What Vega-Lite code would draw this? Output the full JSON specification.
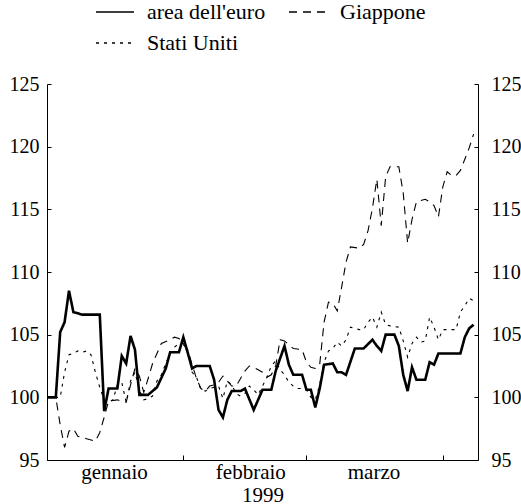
{
  "$schema": "https://vega.github.io/schema/vega-lite/v6.json",
  "width": 431,
  "height": 376,
  "autosize": {"type": "none"},
  "padding": {"left": 47, "top": 84, "right": 43, "bottom": 44},
  "background": "white",
  "config": {
    "view": {"stroke": null},
    "font": "Liberation Serif",
    "axis": {
      "grid": false,
      "domainColor": "black",
      "domainWidth": 1,
      "tickColor": "black",
      "tickWidth": 1,
      "labelColor": "black",
      "labelFont": "Liberation Serif",
      "labelFontSize": 20,
      "titleFont": "Liberation Serif",
      "titleFontSize": 21,
      "titleFontWeight": "normal",
      "titleColor": "black",
      "labelOverlap": false,
      "labelFlush": false
    }
  },
  "datasets": {
    "serie": [
      {"giorno": "1999-01-01", "paese": "area dell'euro", "indice": 100.0},
      {"giorno": "1999-01-03", "paese": "area dell'euro", "indice": 100.0},
      {"giorno": "1999-01-04", "paese": "area dell'euro", "indice": 105.2},
      {"giorno": "1999-01-05", "paese": "area dell'euro", "indice": 106.0},
      {"giorno": "1999-01-06", "paese": "area dell'euro", "indice": 108.5},
      {"giorno": "1999-01-07", "paese": "area dell'euro", "indice": 106.8},
      {"giorno": "1999-01-09", "paese": "area dell'euro", "indice": 106.6},
      {"giorno": "1999-01-13", "paese": "area dell'euro", "indice": 106.6},
      {"giorno": "1999-01-14", "paese": "area dell'euro", "indice": 98.9},
      {"giorno": "1999-01-15", "paese": "area dell'euro", "indice": 100.7},
      {"giorno": "1999-01-17", "paese": "area dell'euro", "indice": 100.7},
      {"giorno": "1999-01-18", "paese": "area dell'euro", "indice": 103.3},
      {"giorno": "1999-01-19", "paese": "area dell'euro", "indice": 102.7},
      {"giorno": "1999-01-20", "paese": "area dell'euro", "indice": 104.9},
      {"giorno": "1999-01-21", "paese": "area dell'euro", "indice": 103.8},
      {"giorno": "1999-01-22", "paese": "area dell'euro", "indice": 100.2},
      {"giorno": "1999-01-24", "paese": "area dell'euro", "indice": 100.2},
      {"giorno": "1999-01-26", "paese": "area dell'euro", "indice": 100.8},
      {"giorno": "1999-01-28", "paese": "area dell'euro", "indice": 102.3},
      {"giorno": "1999-01-29", "paese": "area dell'euro", "indice": 103.6},
      {"giorno": "1999-01-31", "paese": "area dell'euro", "indice": 103.6},
      {"giorno": "1999-02-01", "paese": "area dell'euro", "indice": 104.8},
      {"giorno": "1999-02-03", "paese": "area dell'euro", "indice": 102.3},
      {"giorno": "1999-02-04", "paese": "area dell'euro", "indice": 102.5},
      {"giorno": "1999-02-07", "paese": "area dell'euro", "indice": 102.5},
      {"giorno": "1999-02-08", "paese": "area dell'euro", "indice": 101.4},
      {"giorno": "1999-02-09", "paese": "area dell'euro", "indice": 99.0},
      {"giorno": "1999-02-10", "paese": "area dell'euro", "indice": 98.4},
      {"giorno": "1999-02-11", "paese": "area dell'euro", "indice": 99.8},
      {"giorno": "1999-02-12", "paese": "area dell'euro", "indice": 100.5},
      {"giorno": "1999-02-14", "paese": "area dell'euro", "indice": 100.5},
      {"giorno": "1999-02-15", "paese": "area dell'euro", "indice": 100.7},
      {"giorno": "1999-02-17", "paese": "area dell'euro", "indice": 99.0},
      {"giorno": "1999-02-19", "paese": "area dell'euro", "indice": 100.6},
      {"giorno": "1999-02-21", "paese": "area dell'euro", "indice": 100.6},
      {"giorno": "1999-02-22", "paese": "area dell'euro", "indice": 102.1},
      {"giorno": "1999-02-24", "paese": "area dell'euro", "indice": 104.1},
      {"giorno": "1999-02-25", "paese": "area dell'euro", "indice": 102.6},
      {"giorno": "1999-02-26", "paese": "area dell'euro", "indice": 101.8},
      {"giorno": "1999-02-28", "paese": "area dell'euro", "indice": 101.8},
      {"giorno": "1999-03-01", "paese": "area dell'euro", "indice": 100.6},
      {"giorno": "1999-03-02", "paese": "area dell'euro", "indice": 100.6},
      {"giorno": "1999-03-03", "paese": "area dell'euro", "indice": 99.2},
      {"giorno": "1999-03-04", "paese": "area dell'euro", "indice": 100.7},
      {"giorno": "1999-03-05", "paese": "area dell'euro", "indice": 102.6},
      {"giorno": "1999-03-07", "paese": "area dell'euro", "indice": 102.7},
      {"giorno": "1999-03-08", "paese": "area dell'euro", "indice": 102.0},
      {"giorno": "1999-03-09", "paese": "area dell'euro", "indice": 102.0},
      {"giorno": "1999-03-10", "paese": "area dell'euro", "indice": 101.8},
      {"giorno": "1999-03-12", "paese": "area dell'euro", "indice": 103.9},
      {"giorno": "1999-03-14", "paese": "area dell'euro", "indice": 103.9},
      {"giorno": "1999-03-16", "paese": "area dell'euro", "indice": 104.6},
      {"giorno": "1999-03-17", "paese": "area dell'euro", "indice": 104.1},
      {"giorno": "1999-03-18", "paese": "area dell'euro", "indice": 103.7},
      {"giorno": "1999-03-19", "paese": "area dell'euro", "indice": 105.0},
      {"giorno": "1999-03-21", "paese": "area dell'euro", "indice": 105.0},
      {"giorno": "1999-03-22", "paese": "area dell'euro", "indice": 104.1},
      {"giorno": "1999-03-23", "paese": "area dell'euro", "indice": 101.8},
      {"giorno": "1999-03-24", "paese": "area dell'euro", "indice": 100.5},
      {"giorno": "1999-03-25", "paese": "area dell'euro", "indice": 102.4},
      {"giorno": "1999-03-26", "paese": "area dell'euro", "indice": 101.4},
      {"giorno": "1999-03-28", "paese": "area dell'euro", "indice": 101.4},
      {"giorno": "1999-03-29", "paese": "area dell'euro", "indice": 102.8},
      {"giorno": "1999-03-30", "paese": "area dell'euro", "indice": 102.6},
      {"giorno": "1999-03-31", "paese": "area dell'euro", "indice": 103.5},
      {"giorno": "1999-04-05", "paese": "area dell'euro", "indice": 103.5},
      {"giorno": "1999-04-06", "paese": "area dell'euro", "indice": 104.8},
      {"giorno": "1999-04-07", "paese": "area dell'euro", "indice": 105.5},
      {"giorno": "1999-04-08", "paese": "area dell'euro", "indice": 105.8},

      {"giorno": "1999-01-01", "paese": "Giappone", "indice": 100.0},
      {"giorno": "1999-01-03", "paese": "Giappone", "indice": 100.0},
      {"giorno": "1999-01-04", "paese": "Giappone", "indice": 97.8},
      {"giorno": "1999-01-05", "paese": "Giappone", "indice": 96.0},
      {"giorno": "1999-01-06", "paese": "Giappone", "indice": 97.3},
      {"giorno": "1999-01-07", "paese": "Giappone", "indice": 97.5},
      {"giorno": "1999-01-08", "paese": "Giappone", "indice": 96.9},
      {"giorno": "1999-01-10", "paese": "Giappone", "indice": 96.7},
      {"giorno": "1999-01-12", "paese": "Giappone", "indice": 96.5},
      {"giorno": "1999-01-13", "paese": "Giappone", "indice": 97.2},
      {"giorno": "1999-01-14", "paese": "Giappone", "indice": 98.4},
      {"giorno": "1999-01-15", "paese": "Giappone", "indice": 99.7},
      {"giorno": "1999-01-17", "paese": "Giappone", "indice": 99.8},
      {"giorno": "1999-01-18", "paese": "Giappone", "indice": 99.7},
      {"giorno": "1999-01-19", "paese": "Giappone", "indice": 99.6},
      {"giorno": "1999-01-20", "paese": "Giappone", "indice": 101.0},
      {"giorno": "1999-01-21", "paese": "Giappone", "indice": 102.3},
      {"giorno": "1999-01-22", "paese": "Giappone", "indice": 101.7},
      {"giorno": "1999-01-23", "paese": "Giappone", "indice": 100.4},
      {"giorno": "1999-01-24", "paese": "Giappone", "indice": 101.5},
      {"giorno": "1999-01-25", "paese": "Giappone", "indice": 102.7},
      {"giorno": "1999-01-27", "paese": "Giappone", "indice": 104.3},
      {"giorno": "1999-01-29", "paese": "Giappone", "indice": 104.6},
      {"giorno": "1999-01-30", "paese": "Giappone", "indice": 104.8},
      {"giorno": "1999-01-31", "paese": "Giappone", "indice": 104.7},
      {"giorno": "1999-02-01", "paese": "Giappone", "indice": 104.2},
      {"giorno": "1999-02-02", "paese": "Giappone", "indice": 103.8},
      {"giorno": "1999-02-03", "paese": "Giappone", "indice": 102.6},
      {"giorno": "1999-02-04", "paese": "Giappone", "indice": 101.5},
      {"giorno": "1999-02-05", "paese": "Giappone", "indice": 100.7},
      {"giorno": "1999-02-06", "paese": "Giappone", "indice": 100.5},
      {"giorno": "1999-02-07", "paese": "Giappone", "indice": 100.9},
      {"giorno": "1999-02-08", "paese": "Giappone", "indice": 101.0},
      {"giorno": "1999-02-09", "paese": "Giappone", "indice": 101.2},
      {"giorno": "1999-02-10", "paese": "Giappone", "indice": 101.7},
      {"giorno": "1999-02-11", "paese": "Giappone", "indice": 101.3},
      {"giorno": "1999-02-12", "paese": "Giappone", "indice": 100.9},
      {"giorno": "1999-02-13", "paese": "Giappone", "indice": 100.9},
      {"giorno": "1999-02-14", "paese": "Giappone", "indice": 101.5},
      {"giorno": "1999-02-15", "paese": "Giappone", "indice": 102.1},
      {"giorno": "1999-02-16", "paese": "Giappone", "indice": 102.5},
      {"giorno": "1999-02-17", "paese": "Giappone", "indice": 102.4},
      {"giorno": "1999-02-18", "paese": "Giappone", "indice": 102.2},
      {"giorno": "1999-02-19", "paese": "Giappone", "indice": 102.0},
      {"giorno": "1999-02-20", "paese": "Giappone", "indice": 101.6},
      {"giorno": "1999-02-21", "paese": "Giappone", "indice": 101.8},
      {"giorno": "1999-02-22", "paese": "Giappone", "indice": 102.5},
      {"giorno": "1999-02-23", "paese": "Giappone", "indice": 104.6},
      {"giorno": "1999-02-24", "paese": "Giappone", "indice": 104.5},
      {"giorno": "1999-02-26", "paese": "Giappone", "indice": 103.9},
      {"giorno": "1999-02-28", "paese": "Giappone", "indice": 103.8},
      {"giorno": "1999-03-01", "paese": "Giappone", "indice": 102.8},
      {"giorno": "1999-03-02", "paese": "Giappone", "indice": 102.4},
      {"giorno": "1999-03-03", "paese": "Giappone", "indice": 102.3},
      {"giorno": "1999-03-04", "paese": "Giappone", "indice": 102.6},
      {"giorno": "1999-03-05", "paese": "Giappone", "indice": 106.0},
      {"giorno": "1999-03-06", "paese": "Giappone", "indice": 107.6},
      {"giorno": "1999-03-07", "paese": "Giappone", "indice": 107.5},
      {"giorno": "1999-03-08", "paese": "Giappone", "indice": 106.9},
      {"giorno": "1999-03-09", "paese": "Giappone", "indice": 108.8},
      {"giorno": "1999-03-10", "paese": "Giappone", "indice": 110.8},
      {"giorno": "1999-03-11", "paese": "Giappone", "indice": 112.0},
      {"giorno": "1999-03-13", "paese": "Giappone", "indice": 111.9},
      {"giorno": "1999-03-14", "paese": "Giappone", "indice": 112.2},
      {"giorno": "1999-03-15", "paese": "Giappone", "indice": 113.3},
      {"giorno": "1999-03-16", "paese": "Giappone", "indice": 115.1},
      {"giorno": "1999-03-17", "paese": "Giappone", "indice": 117.4},
      {"giorno": "1999-03-18", "paese": "Giappone", "indice": 113.7},
      {"giorno": "1999-03-19", "paese": "Giappone", "indice": 117.6},
      {"giorno": "1999-03-20", "paese": "Giappone", "indice": 118.4},
      {"giorno": "1999-03-22", "paese": "Giappone", "indice": 118.4},
      {"giorno": "1999-03-23", "paese": "Giappone", "indice": 116.3},
      {"giorno": "1999-03-24", "paese": "Giappone", "indice": 112.3},
      {"giorno": "1999-03-25", "paese": "Giappone", "indice": 114.2},
      {"giorno": "1999-03-26", "paese": "Giappone", "indice": 115.6},
      {"giorno": "1999-03-28", "paese": "Giappone", "indice": 115.8},
      {"giorno": "1999-03-29", "paese": "Giappone", "indice": 115.6},
      {"giorno": "1999-03-30", "paese": "Giappone", "indice": 115.3},
      {"giorno": "1999-03-31", "paese": "Giappone", "indice": 114.4},
      {"giorno": "1999-04-01", "paese": "Giappone", "indice": 116.8},
      {"giorno": "1999-04-02", "paese": "Giappone", "indice": 118.0},
      {"giorno": "1999-04-03", "paese": "Giappone", "indice": 117.7},
      {"giorno": "1999-04-04", "paese": "Giappone", "indice": 117.7},
      {"giorno": "1999-04-05", "paese": "Giappone", "indice": 118.1},
      {"giorno": "1999-04-06", "paese": "Giappone", "indice": 119.0},
      {"giorno": "1999-04-07", "paese": "Giappone", "indice": 119.9},
      {"giorno": "1999-04-08", "paese": "Giappone", "indice": 121.0},

      {"giorno": "1999-01-01", "paese": "Stati Uniti", "indice": 100.0},
      {"giorno": "1999-01-03", "paese": "Stati Uniti", "indice": 100.0},
      {"giorno": "1999-01-04", "paese": "Stati Uniti", "indice": 100.0},
      {"giorno": "1999-01-05", "paese": "Stati Uniti", "indice": 102.0},
      {"giorno": "1999-01-06", "paese": "Stati Uniti", "indice": 103.4},
      {"giorno": "1999-01-07", "paese": "Stati Uniti", "indice": 103.5},
      {"giorno": "1999-01-08", "paese": "Stati Uniti", "indice": 103.7},
      {"giorno": "1999-01-09", "paese": "Stati Uniti", "indice": 103.6},
      {"giorno": "1999-01-10", "paese": "Stati Uniti", "indice": 103.7},
      {"giorno": "1999-01-11", "paese": "Stati Uniti", "indice": 103.4},
      {"giorno": "1999-01-12", "paese": "Stati Uniti", "indice": 102.0},
      {"giorno": "1999-01-13", "paese": "Stati Uniti", "indice": 100.8},
      {"giorno": "1999-01-14", "paese": "Stati Uniti", "indice": 99.8},
      {"giorno": "1999-01-15", "paese": "Stati Uniti", "indice": 99.6},
      {"giorno": "1999-01-16", "paese": "Stati Uniti", "indice": 99.8},
      {"giorno": "1999-01-17", "paese": "Stati Uniti", "indice": 101.0},
      {"giorno": "1999-01-18", "paese": "Stati Uniti", "indice": 101.2},
      {"giorno": "1999-01-19", "paese": "Stati Uniti", "indice": 99.6},
      {"giorno": "1999-01-20", "paese": "Stati Uniti", "indice": 101.3},
      {"giorno": "1999-01-21", "paese": "Stati Uniti", "indice": 102.0},
      {"giorno": "1999-01-22", "paese": "Stati Uniti", "indice": 100.6},
      {"giorno": "1999-01-23", "paese": "Stati Uniti", "indice": 99.8},
      {"giorno": "1999-01-24", "paese": "Stati Uniti", "indice": 99.9},
      {"giorno": "1999-01-25", "paese": "Stati Uniti", "indice": 100.1},
      {"giorno": "1999-01-26", "paese": "Stati Uniti", "indice": 101.3},
      {"giorno": "1999-01-27", "paese": "Stati Uniti", "indice": 101.8},
      {"giorno": "1999-01-28", "paese": "Stati Uniti", "indice": 102.7},
      {"giorno": "1999-01-29", "paese": "Stati Uniti", "indice": 103.5},
      {"giorno": "1999-01-30", "paese": "Stati Uniti", "indice": 104.0},
      {"giorno": "1999-01-31", "paese": "Stati Uniti", "indice": 104.3},
      {"giorno": "1999-02-01", "paese": "Stati Uniti", "indice": 104.3},
      {"giorno": "1999-02-02", "paese": "Stati Uniti", "indice": 103.6},
      {"giorno": "1999-02-03", "paese": "Stati Uniti", "indice": 102.0},
      {"giorno": "1999-02-04", "paese": "Stati Uniti", "indice": 101.6},
      {"giorno": "1999-02-05", "paese": "Stati Uniti", "indice": 100.6},
      {"giorno": "1999-02-06", "paese": "Stati Uniti", "indice": 100.5},
      {"giorno": "1999-02-07", "paese": "Stati Uniti", "indice": 100.7},
      {"giorno": "1999-02-08", "paese": "Stati Uniti", "indice": 100.8},
      {"giorno": "1999-02-09", "paese": "Stati Uniti", "indice": 100.9},
      {"giorno": "1999-02-10", "paese": "Stati Uniti", "indice": 99.9},
      {"giorno": "1999-02-11", "paese": "Stati Uniti", "indice": 101.3},
      {"giorno": "1999-02-12", "paese": "Stati Uniti", "indice": 101.0},
      {"giorno": "1999-02-13", "paese": "Stati Uniti", "indice": 100.3},
      {"giorno": "1999-02-14", "paese": "Stati Uniti", "indice": 100.1},
      {"giorno": "1999-02-15", "paese": "Stati Uniti", "indice": 100.3},
      {"giorno": "1999-02-16", "paese": "Stati Uniti", "indice": 100.9},
      {"giorno": "1999-02-17", "paese": "Stati Uniti", "indice": 100.6},
      {"giorno": "1999-02-18", "paese": "Stati Uniti", "indice": 100.2},
      {"giorno": "1999-02-19", "paese": "Stati Uniti", "indice": 100.9},
      {"giorno": "1999-02-20", "paese": "Stati Uniti", "indice": 101.6},
      {"giorno": "1999-02-21", "paese": "Stati Uniti", "indice": 102.5},
      {"giorno": "1999-02-22", "paese": "Stati Uniti", "indice": 102.9},
      {"giorno": "1999-02-23", "paese": "Stati Uniti", "indice": 102.2},
      {"giorno": "1999-02-24", "paese": "Stati Uniti", "indice": 101.8},
      {"giorno": "1999-02-25", "paese": "Stati Uniti", "indice": 101.2},
      {"giorno": "1999-02-26", "paese": "Stati Uniti", "indice": 100.9},
      {"giorno": "1999-02-27", "paese": "Stati Uniti", "indice": 100.7},
      {"giorno": "1999-02-28", "paese": "Stati Uniti", "indice": 100.7},
      {"giorno": "1999-03-01", "paese": "Stati Uniti", "indice": 100.6},
      {"giorno": "1999-03-02", "paese": "Stati Uniti", "indice": 100.0},
      {"giorno": "1999-03-03", "paese": "Stati Uniti", "indice": 99.8},
      {"giorno": "1999-03-04", "paese": "Stati Uniti", "indice": 101.0},
      {"giorno": "1999-03-05", "paese": "Stati Uniti", "indice": 102.8},
      {"giorno": "1999-03-06", "paese": "Stati Uniti", "indice": 103.7},
      {"giorno": "1999-03-07", "paese": "Stati Uniti", "indice": 103.9},
      {"giorno": "1999-03-08", "paese": "Stati Uniti", "indice": 104.4},
      {"giorno": "1999-03-09", "paese": "Stati Uniti", "indice": 104.1},
      {"giorno": "1999-03-10", "paese": "Stati Uniti", "indice": 104.6},
      {"giorno": "1999-03-11", "paese": "Stati Uniti", "indice": 105.6},
      {"giorno": "1999-03-13", "paese": "Stati Uniti", "indice": 105.4},
      {"giorno": "1999-03-14", "paese": "Stati Uniti", "indice": 105.4},
      {"giorno": "1999-03-15", "paese": "Stati Uniti", "indice": 106.0},
      {"giorno": "1999-03-16", "paese": "Stati Uniti", "indice": 106.4},
      {"giorno": "1999-03-17", "paese": "Stati Uniti", "indice": 105.6},
      {"giorno": "1999-03-18", "paese": "Stati Uniti", "indice": 106.8},
      {"giorno": "1999-03-19", "paese": "Stati Uniti", "indice": 105.8},
      {"giorno": "1999-03-20", "paese": "Stati Uniti", "indice": 105.7},
      {"giorno": "1999-03-22", "paese": "Stati Uniti", "indice": 105.6},
      {"giorno": "1999-03-23", "paese": "Stati Uniti", "indice": 104.5},
      {"giorno": "1999-03-24", "paese": "Stati Uniti", "indice": 103.2},
      {"giorno": "1999-03-25", "paese": "Stati Uniti", "indice": 104.3},
      {"giorno": "1999-03-26", "paese": "Stati Uniti", "indice": 104.8},
      {"giorno": "1999-03-27", "paese": "Stati Uniti", "indice": 104.4},
      {"giorno": "1999-03-28", "paese": "Stati Uniti", "indice": 104.5},
      {"giorno": "1999-03-29", "paese": "Stati Uniti", "indice": 106.4},
      {"giorno": "1999-03-30", "paese": "Stati Uniti", "indice": 105.6},
      {"giorno": "1999-03-31", "paese": "Stati Uniti", "indice": 104.6},
      {"giorno": "1999-04-01", "paese": "Stati Uniti", "indice": 105.4},
      {"giorno": "1999-04-04", "paese": "Stati Uniti", "indice": 105.4},
      {"giorno": "1999-04-05", "paese": "Stati Uniti", "indice": 106.8},
      {"giorno": "1999-04-06", "paese": "Stati Uniti", "indice": 107.3},
      {"giorno": "1999-04-07", "paese": "Stati Uniti", "indice": 107.9},
      {"giorno": "1999-04-08", "paese": "Stati Uniti", "indice": 107.7}
    ]
  },
  "data": {"name": "serie"},
  "encoding": {
    "x": {
      "field": "giorno",
      "type": "temporal",
      "scale": {
        "type": "utc",
        "domain": [
          {"year": 1999, "month": 1, "date": 1, "utc": true},
          {"year": 1999, "month": 4, "date": 9, "utc": true}
        ]
      },
      "axis": {
        "title": "1999",
        "values": [
          {"year": 1999, "month": 1, "date": 1, "utc": true},
          {"year": 1999, "month": 2, "date": 1, "utc": true},
          {"year": 1999, "month": 3, "date": 1, "utc": true},
          {"year": 1999, "month": 4, "date": 1, "utc": true}
        ],
        "labelExpr": "utcmonth(datum.value) == 0 ? 'gennaio' : (utcmonth(datum.value) == 1 ? 'febbraio' : (utcmonth(datum.value) == 2 ? 'marzo' : ''))",
        "labelOffset": 67,
        "labelFontSize": 21,
        "tickSize": -5,
        "labelPadding": 6,
        "titlePadding": 2
      }
    }
  },
  "layer": [
    {
      "transform": [{"filter": {"field": "paese", "oneOf": ["Giappone", "Stati Uniti"]}}],
      "mark": {"type": "line", "color": "black", "strokeWidth": 1.1},
      "encoding": {
        "y": {
          "field": "indice",
          "type": "quantitative",
          "scale": {"domain": [95, 125], "zero": false, "nice": false},
          "axis": {
            "orient": "left",
            "title": null,
            "values": [95, 100, 105, 110, 115, 120, 125],
            "tickSize": -4,
            "labelPadding": 12
          }
        },
        "strokeDash": {
          "field": "paese",
          "type": "nominal",
          "scale": {
            "domain": ["area dell'euro", "Stati Uniti", "Giappone"],
            "range": [[1, 0], [3, 5], [8, 6]]
          },
          "legend": {
            "orient": "none",
            "legendX": 48,
            "legendY": -92,
            "columns": 2,
            "title": null,
            "symbolSize": 1444,
            "symbolStrokeColor": "black",
            "labelFont": "Liberation Serif",
            "labelFontSize": 22,
            "labelColor": "black",
            "labelOffset": 12,
            "columnPadding": 20,
            "rowPadding": 0
          }
        }
      }
    },
    {
      "transform": [{"filter": {"field": "paese", "equal": "area dell'euro"}}],
      "mark": {"type": "line", "color": "black", "strokeWidth": 2.6},
      "encoding": {
        "y": {
          "field": "indice",
          "type": "quantitative",
          "scale": {"domain": [95, 125], "zero": false, "nice": false},
          "axis": null
        },
        "strokeDash": {
          "field": "paese",
          "type": "nominal",
          "scale": {
            "domain": ["area dell'euro", "Stati Uniti", "Giappone"],
            "range": [[1, 0], [3, 5], [8, 6]]
          }
        }
      }
    },
    {
      "mark": {"type": "point", "opacity": 0},
      "encoding": {
        "y": {
          "field": "indice",
          "type": "quantitative",
          "scale": {"domain": [95, 125], "zero": false, "nice": false},
          "axis": {
            "orient": "right",
            "title": null,
            "values": [95, 100, 105, 110, 115, 120, 125],
            "tickSize": -4,
            "labelPadding": 17
          }
        }
      }
    }
  ],
  "resolve": {"scale": {"y": "independent"}}
}
